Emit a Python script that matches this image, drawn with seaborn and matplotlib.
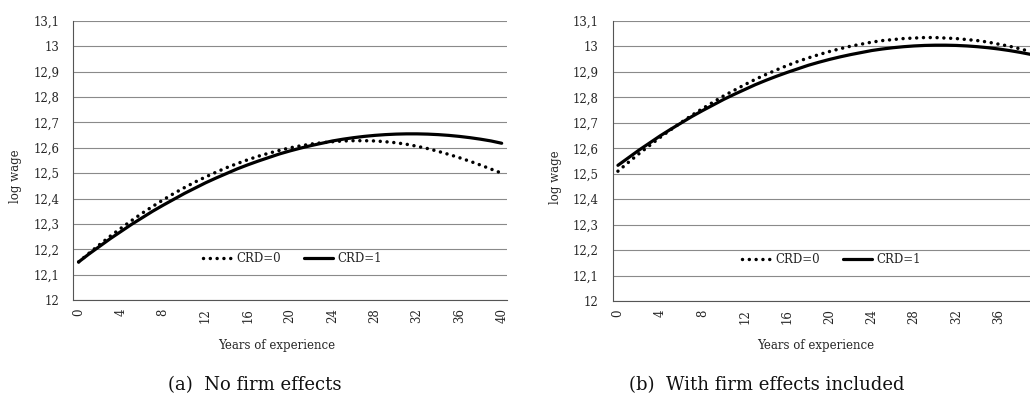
import numpy as np
import pandas as pd
import matplotlib
matplotlib.use("Agg")
import matplotlib.pyplot as plt
import seaborn as sns
from matplotlib.ticker import FixedLocator, FuncFormatter

# years of experience, 0..40
years = list(range(41))

# (a) no firm effects
a_crd0 = [12.150, 12.185, 12.219, 12.252, 12.283, 12.313, 12.342, 12.369, 12.395, 12.420,
          12.443, 12.465, 12.485, 12.504, 12.522, 12.538, 12.553, 12.567, 12.579, 12.590,
          12.600, 12.608, 12.615, 12.620, 12.624, 12.627, 12.628, 12.628, 12.627, 12.624,
          12.620, 12.614, 12.606, 12.597, 12.586, 12.574, 12.561, 12.547, 12.532, 12.516,
          12.500]
a_crd1 = [12.150, 12.182, 12.212, 12.242, 12.270, 12.298, 12.324, 12.350, 12.374, 12.397,
          12.420, 12.441, 12.462, 12.481, 12.499, 12.517, 12.533, 12.548, 12.562, 12.576,
          12.588, 12.599, 12.609, 12.618, 12.627, 12.634, 12.640, 12.645, 12.649, 12.652,
          12.654, 12.655, 12.655, 12.654, 12.652, 12.649, 12.645, 12.640, 12.634, 12.627,
          12.618]

# (b) with firm effects included
b_crd0 = [12.510, 12.545, 12.579, 12.611, 12.643, 12.673, 12.702, 12.730, 12.756, 12.781,
          12.806, 12.828, 12.850, 12.871, 12.890, 12.908, 12.925, 12.941, 12.955, 12.968,
          12.980, 12.991, 13.001, 13.009, 13.017, 13.023, 13.027, 13.031, 13.033, 13.035,
          13.035, 13.033, 13.031, 13.027, 13.023, 13.017, 13.009, 13.001, 12.991, 12.980,
          12.968]
b_crd1 = [12.533, 12.563, 12.593, 12.621, 12.649, 12.675, 12.700, 12.725, 12.748, 12.770,
          12.792, 12.812, 12.831, 12.850, 12.867, 12.883, 12.898, 12.912, 12.926, 12.938,
          12.949, 12.959, 12.968, 12.976, 12.984, 12.990, 12.995, 12.999, 13.002, 13.004,
          13.005, 13.005, 13.004, 13.002, 12.999, 12.995, 12.990, 12.984, 12.977, 12.969,
          12.960]

yticks = [12.0, 12.1, 12.2, 12.3, 12.4, 12.5, 12.6, 12.7, 12.8, 12.9, 13.0, 13.1]
xlabels_a = [0, 4, 8, 12, 16, 20, 24, 28, 32, 36, 40]
xlabels_b = [0, 4, 8, 12, 16, 20, 24, 28, 32, 36]  # panel b is cut at the right edge

sns.set_style("white")
plt.rcParams['font.family'] = ['DejaVu Serif']

fig = plt.figure(figsize=(10.3, 4.03), dpi=100)
ax1 = fig.add_axes([0.0712, 0.2556, 0.421, 0.6923])
ax2 = fig.add_axes([0.5948, 0.2531, 0.421, 0.6948])

panels = [(ax1, a_crd0, a_crd1, xlabels_a), (ax2, b_crd0, b_crd1, xlabels_b)]
for ax, s0, s1, xl in panels:
    df = pd.DataFrame({'year': years, 'CRD=0': s0, 'CRD=1': s1})
    sns.lineplot(x='year', y='CRD=0', data=df, ax=ax, color='black', linewidth=2.5,
                 linestyle=(0, (0.01, 1.95)), dash_capstyle='round', label='CRD=0')
    sns.lineplot(x='year', y='CRD=1', data=df, ax=ax, color='black', linewidth=2.3,
                 label='CRD=1')
    ax.set_xlim(-0.5, 40.5)
    ax.set_ylim(12, 13.1)
    ax.set_yticks(yticks)
    ax.yaxis.set_major_formatter(FuncFormatter(lambda v, p: f"{round(v, 1):g}".replace('.', ',')))
    ax.set_xticks(xl)
    ax.xaxis.set_minor_locator(FixedLocator(np.arange(-0.5, 41, 1)))
    ax.tick_params(axis='x', which='major', length=0, pad=6, labelsize=8.5, labelrotation=90)
    ax.tick_params(axis='x', which='minor', length=4, width=0.8, color='#555555', direction='out')
    ax.tick_params(axis='y', length=5, width=0.8, color='#555555', direction='out',
                   pad=5, labelsize=8.5)
    ax.grid(axis='y', color='#8a8a8a', linewidth=0.8)
    ax.set_axisbelow(True)
    for side in ['top', 'right']:
        ax.spines[side].set_visible(False)
    for side in ['left', 'bottom']:
        ax.spines[side].set_color('#555555')
        ax.spines[side].set_linewidth(0.8)
    ax.set_xlabel('')
    ax.set_ylabel('')
    ax.legend(loc='center', bbox_to_anchor=(0.505, 0.147), ncol=2, frameon=False,
              fontsize=8.5, handlelength=2.4, handletextpad=0.4, columnspacing=2.0)

fig.text(277 / 1030, 1 - 345 / 403, 'Years of experience', ha='center', va='center', fontsize=8.5)
fig.text(816 / 1030, 1 - 345 / 403, 'Years of experience', ha='center', va='center', fontsize=8.5)
fig.text(16 / 1030, 1 - 176 / 403, 'log wage', ha='center', va='center', rotation=90, fontsize=8.5)
fig.text(555 / 1030, 1 - 177 / 403, 'log wage', ha='center', va='center', rotation=90, fontsize=8.5)
fig.text(255 / 1030, 1 - 385 / 403, '(a)  No firm effects', ha='center', va='center',
         fontsize=13, color='#111111')
fig.text(767 / 1030, 1 - 385 / 403, '(b)  With firm effects included', ha='center', va='center',
         fontsize=13, color='#111111')

fig.savefig('out.png', dpi=100)
